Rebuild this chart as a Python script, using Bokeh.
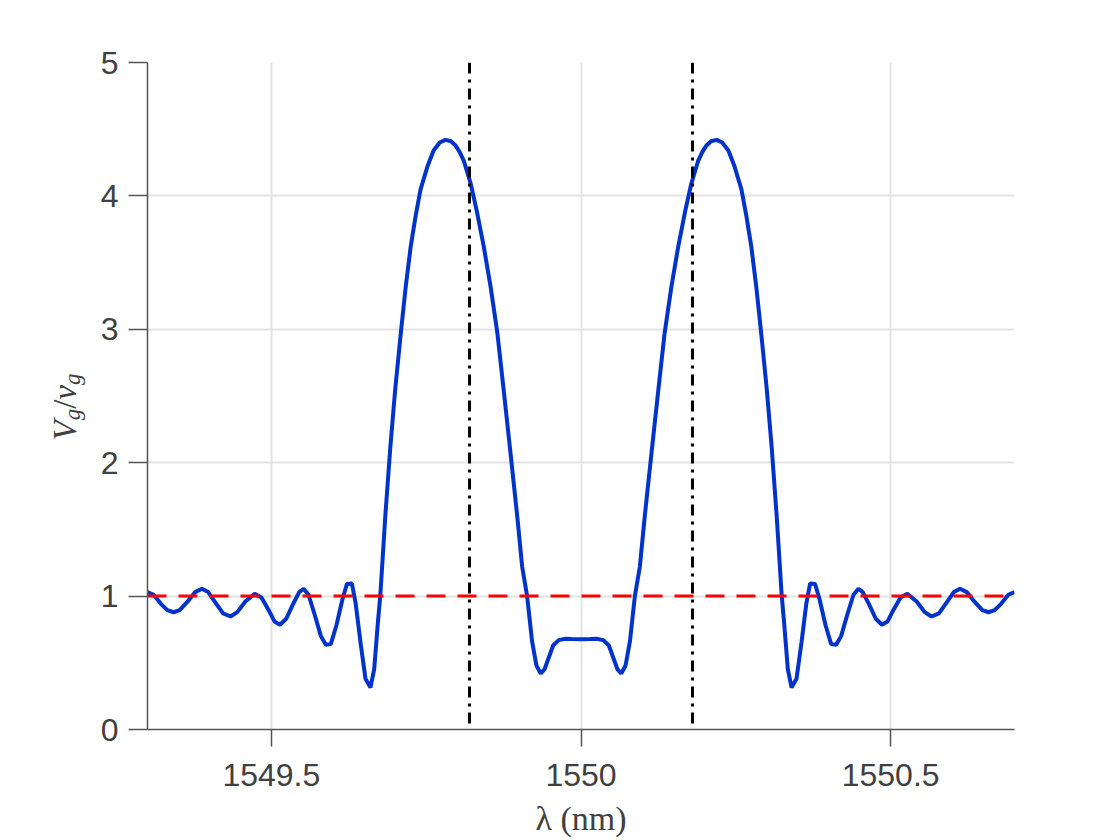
from bokeh.plotting import figure
from bokeh.models import Span, FixedTicker, ColumnDataSource, Div
from bokeh.layouts import row
from bokeh.embed import file_html
from bokeh.resources import INLINE

# ---- data ----
wavelength_nm = [
    1549.300, 1549.310, 1549.322, 1549.332, 1549.342, 1549.352, 1549.365, 1549.377, 1549.388, 1549.398,
    1549.410, 1549.422, 1549.434, 1549.445, 1549.458, 1549.473, 1549.484, 1549.495, 1549.505, 1549.514,
    1549.524, 1549.535, 1549.545, 1549.552, 1549.560, 1549.570, 1549.580, 1549.588, 1549.596, 1549.605,
    1549.615, 1549.622, 1549.630, 1549.636, 1549.644, 1549.652, 1549.660, 1549.666, 1549.672, 1549.676,
    1549.684, 1549.692, 1549.700, 1549.709, 1549.717, 1549.725, 1549.733, 1549.741, 1549.752, 1549.762,
    1549.772, 1549.781, 1549.790, 1549.797, 1549.804, 1549.811, 1549.822, 1549.832, 1549.843, 1549.854,
    1549.865, 1549.875, 1549.886, 1549.897, 1549.905, 1549.913, 1549.921, 1549.928, 1549.935, 1549.941,
    1549.948, 1549.955, 1549.964, 1549.975, 1549.985, 1550.000,
    1550.015, 1550.025, 1550.036, 1550.045, 1550.052, 1550.059, 1550.065, 1550.072, 1550.079, 1550.087,
    1550.095, 1550.103, 1550.114, 1550.125, 1550.135, 1550.146, 1550.157, 1550.168, 1550.178, 1550.189,
    1550.196, 1550.203, 1550.210, 1550.219, 1550.228, 1550.238, 1550.248, 1550.259, 1550.267, 1550.275,
    1550.283, 1550.291, 1550.300, 1550.308, 1550.316, 1550.324, 1550.328, 1550.334, 1550.340, 1550.348,
    1550.356, 1550.364, 1550.370, 1550.378, 1550.385, 1550.395, 1550.404, 1550.412, 1550.420, 1550.430,
    1550.440, 1550.448, 1550.455, 1550.465, 1550.476, 1550.486, 1550.495, 1550.505, 1550.516, 1550.527,
    1550.542, 1550.555, 1550.566, 1550.578, 1550.590, 1550.602, 1550.612, 1550.623, 1550.635, 1550.648,
    1550.658, 1550.668, 1550.678, 1550.690, 1550.700,
]
group_velocity_ratio = [
    1.03, 1.01, 0.94, 0.895, 0.879, 0.895, 0.96, 1.03, 1.055, 1.03,
    0.95, 0.87, 0.847, 0.88, 0.96, 1.017, 0.99, 0.90, 0.81, 0.785,
    0.83, 0.94, 1.03, 1.055, 1.01, 0.86, 0.70, 0.635, 0.64, 0.78,
    0.98, 1.09, 1.095, 0.95, 0.65, 0.38, 0.315, 0.45, 0.80, 1.01,
    1.60, 2.11, 2.55, 2.97, 3.32, 3.62, 3.85, 4.05, 4.22, 4.34,
    4.40, 4.42, 4.41, 4.38, 4.33, 4.26, 4.09, 3.88, 3.62, 3.32,
    2.97, 2.55, 2.08, 1.60, 1.22, 1.00, 0.66, 0.48, 0.42, 0.45,
    0.54, 0.63, 0.67, 0.68, 0.678, 0.677,
    0.678, 0.68, 0.67, 0.63, 0.54, 0.45, 0.42, 0.48, 0.66, 1.00,
    1.22, 1.60, 2.08, 2.55, 2.97, 3.32, 3.62, 3.88, 4.09, 4.26,
    4.33, 4.38, 4.41, 4.42, 4.40, 4.34, 4.22, 4.05, 3.85, 3.62,
    3.32, 2.97, 2.55, 2.11, 1.60, 1.01, 0.80, 0.45, 0.315, 0.38,
    0.65, 0.95, 1.095, 1.09, 0.98, 0.78, 0.64, 0.635, 0.70, 0.86,
    1.01, 1.055, 1.03, 0.94, 0.83, 0.785, 0.81, 0.90, 0.99, 1.017,
    0.96, 0.88, 0.847, 0.87, 0.95, 1.03, 1.055, 1.03, 0.96, 0.895,
    0.879, 0.895, 0.94, 1.01, 1.03,
]
reference_x = [1549.3, 1550.7]
reference_y = [1.0, 1.0]
band_edges_nm = [1549.82, 1550.18]
x_ticks = [1549.5, 1550.0, 1550.5]
x_tick_labels = ["1549.5", "1550", "1550.5"]
y_ticks = [0, 1, 2, 3, 4, 5]

LABEL_W = 97

# ---- figure ----
p = figure(frame_width=867, frame_height=667, x_range=(1549.3, 1550.7), y_range=(0, 5),
           output_backend="svg", toolbar_location=None, margin=0,
           min_border_left=147 - LABEL_W, min_border_right=106, min_border_top=62, min_border_bottom=100)
p.outline_line_color = None
p.background_fill_color = "white"
p.border_fill_color = "white"

p.xaxis.ticker = FixedTicker(ticks=x_ticks)
p.xaxis.major_label_overrides = {t: l for t, l in zip(x_ticks, x_tick_labels)}
p.yaxis.ticker = FixedTicker(ticks=y_ticks)

for ax in (p.xaxis[0], p.yaxis[0]):
    ax.axis_line_color = "#555555"
    ax.axis_line_width = 1.5
    ax.major_tick_line_color = "#555555"
    ax.major_tick_line_width = 1.5
    ax.major_tick_in = 0
    ax.minor_tick_line_color = None
    ax.major_label_text_font = "Liberation Sans"
    ax.major_label_text_font_size = "32px"
    ax.major_label_text_color = "#404040"
p.xaxis.major_tick_out = 17
p.yaxis.major_tick_out = 19
p.xaxis.major_label_standoff = 17
p.yaxis.major_label_standoff = 10

p.xaxis.axis_label = "λ (nm)"
p.xaxis.axis_label_text_font = "Liberation Serif"
p.xaxis.axis_label_text_font_style = "normal"
p.xaxis.axis_label_text_font_size = "34px"
p.xaxis.axis_label_text_color = "#404040"
p.xaxis.axis_label_standoff = 11

p.grid.grid_line_color = "#e3e3e3"
p.grid.grid_line_width = 2

src = ColumnDataSource(data=dict(x=wavelength_nm, y=group_velocity_ratio))
p.line("x", "y", source=src, line_color="#0033CC", line_width=4)
p.line(reference_x, reference_y, line_color="#FF0000", line_width=3, line_dash="19 12")
for edge in band_edges_nm:
    p.add_layout(Span(location=edge, dimension="height", line_color="black",
                      line_width=3, line_dash="11 6 3 6"))

# y-axis label  V_g / v_g  with real subscripts (HTML text, rotated)
ylabel_html = (
    '<div style="position:relative;width:%dpx;height:800px;overflow:visible;">'
    '<span style="position:absolute;left:49px;top:407px;writing-mode:vertical-rl;'
    'transform:translateY(-50%%) rotate(180deg);font-family:\'Liberation Serif\',serif;'
    'font-size:33px;line-height:1;color:#404040;white-space:nowrap;">'
    '<i>V</i><sub style="font-size:23px;"><i>g</i></sub>/<i>v</i><sub style="font-size:23px;"><i>g</i></sub>'
    '</span></div>'
) % LABEL_W
ylabel = Div(text=ylabel_html, width=LABEL_W, height=800, margin=0)

layout = row(ylabel, p, spacing=0)
open("out.html", "w").write(file_html(layout, INLINE))
